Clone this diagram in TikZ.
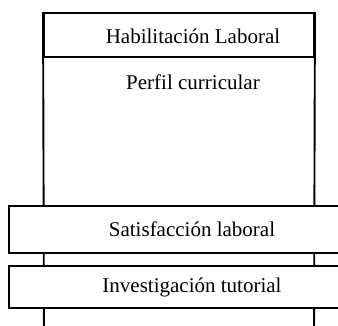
\documentclass[tikz,border=0pt]{standalone}
\usepackage{fontspec}
\setmainfont{Liberation Serif}
\begin{document}
\begin{tikzpicture}[x=1pt,y=-1pt,
  frame/.style={draw=black,line width=1.9pt},
  band/.style={frame,fill=white,rectangle,inner sep=0pt},
  lbl/.style={font=\fontsize{21}{25}\selectfont,inner sep=0pt}]
\useasboundingbox (0,0) rectangle (338,325);
\clip (0,0) rectangle (338,325);
% tall outer box
\node[frame,rectangle,inner sep=0pt,minimum width=270pt,minimum height=44pt] (hab) at (179,35) {};
\coordinate (bl) at (44,340);
\coordinate (br) at (314,340);
\draw[frame] (hab.north west) -- (bl);
\draw[frame] (hab.north east) -- (br);
\node[lbl] (habt) at (193,36) {Habilitación Laboral};
\node[lbl] (perf) at (193,82) {Perfil curricular};
% bands
\node[band,minimum width=336pt,minimum height=47pt] (sat) at (177,229.5) {};
\node[lbl] (satt) at (192,229.5) {Satisfacción laboral};
\node[band,minimum width=336pt,minimum height=42pt] (inv) at (177,287) {};
\node[lbl] (invt) at (192,287) {Investigación tutorial};
\end{tikzpicture}
\end{document}
